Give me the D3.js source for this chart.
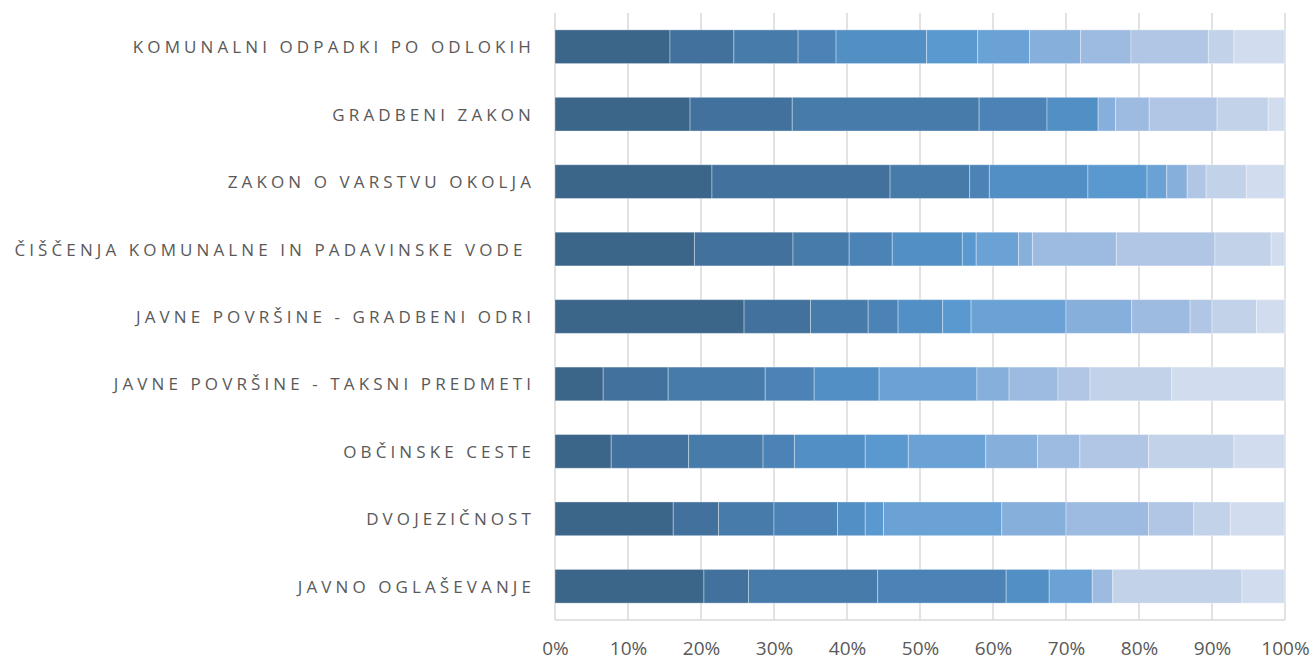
<!DOCTYPE html>
<html>
<head>
<meta charset="utf-8">
<script src="https://cdn.jsdelivr.net/npm/d3@7"></script>
<style>
  html, body { margin: 0; padding: 0; background: #ffffff; }
  svg { display: block; }
</style>
</head>
<body>
<svg id="chart" width="1314" height="661"></svg>
<script>
// Categories, top to bottom
const categories = [
  "KOMUNALNI ODPADKI PO ODLOKIH",
  "GRADBENI ZAKON",
  "ZAKON O VARSTVU OKOLJA",
  "ČIŠČENJA KOMUNALNE IN PADAVINSKE VODE ",
  "JAVNE POVRŠINE - GRADBENI ODRI",
  "JAVNE POVRŠINE - TAKSNI PREDMETI",
  "OBČINSKE CESTE",
  "DVOJEZIČNOST",
  "JAVNO OGLAŠEVANJE"
];

// Series values (percent share), one array per series, in category order
const s01 = [15.75, 18.5, 21.5, 19.1, 25.9,  6.6,  7.7, 16.2, 20.4];
const s02 = [ 8.75, 14.0, 24.4, 13.5,  9.1,  8.9, 10.6,  6.2,  6.1];
const s03 = [ 8.8,  25.6, 10.9,  7.7,  7.9, 13.3, 10.2,  7.6, 17.7];
const s04 = [ 5.2,   9.3,  2.7,  5.9,  4.1,  6.7,  4.3,  8.7, 17.6];
const s05 = [12.4,   7.0, 13.5,  9.6,  6.1,  8.9,  9.7,  3.8,  5.9];
const s06 = [ 7.0,   0.0,  8.1,  1.9,  3.9,  0.0,  5.9,  2.5,  0.0];
const s07 = [ 7.1,   0.0,  2.7,  5.8, 13.0, 13.4, 10.6, 16.2,  5.9];
const s08 = [ 7.0,   2.4,  2.8,  1.9,  9.0,  4.4,  7.1,  8.8,  0.0];
const s09 = [ 6.9,   4.6,  0.0, 11.5,  8.0,  6.7,  5.8, 11.3,  2.8];
const s10 = [10.6,   9.3,  2.6, 13.5,  3.0,  4.4,  9.4,  6.2,  0.0];
const s11 = [ 3.5,   7.0,  5.5,  7.7,  6.1, 11.2, 11.7,  5.0, 17.7];
const s12 = [ 7.0,   2.3,  5.3,  1.9,  3.9, 15.5,  7.0,  7.5,  5.9];

const seriesList = [s01, s02, s03, s04, s05, s06, s07, s08, s09, s10, s11, s12];
const seriesKeys = seriesList.map((_, i) => "s" + (i + 1));

const tickValues = [0, 0.1, 0.2, 0.3, 0.4, 0.5, 0.6, 0.7, 0.8, 0.9, 1.0];

const colors = [
  "#3b6589", "#41719c", "#477caa", "#4c83b6", "#528fc4", "#5a99d0",
  "#6ba2d6", "#87afdb", "#9dbbe1", "#b0c6e4", "#c1d2e9", "#d1ddee"
];

// Build table for d3.stack
const table = categories.map((c, ci) => {
  const row = { category: c };
  seriesKeys.forEach((k, si) => { row[k] = seriesList[si][ci]; });
  return row;
});

const stacked = d3.stack()
  .keys(seriesKeys)
  .offset(d3.stackOffsetExpand)(table);

const svg = d3.select("#chart");
const plotLeft = 555, plotRight = 1285, plotTop = 13, plotBottom = 620;

const x = d3.scaleLinear().domain([0, 1]).range([plotLeft, plotRight]);
const y = d3.scaleBand().domain(categories).range([plotTop, plotBottom])
  .paddingInner(0.5).paddingOuter(0.25);

// Gridlines
svg.append("g")
  .selectAll("line")
  .data(tickValues)
  .join("line")
  .attr("x1", d => x(d)).attr("x2", d => x(d))
  .attr("y1", plotTop).attr("y2", plotBottom)
  .attr("stroke", "#d9d9d9")
  .attr("stroke-width", 1.5);

// Bottom axis line
svg.append("line")
  .attr("x1", plotLeft).attr("x2", plotRight)
  .attr("y1", plotBottom).attr("y2", plotBottom)
  .attr("stroke", "#d9d9d9").attr("stroke-width", 1.5);

// Bars
const cScale = d3.scaleOrdinal().domain(seriesKeys).range(colors);
svg.append("g")
  .selectAll("g")
  .data(stacked)
  .join("g")
  .attr("fill", d => cScale(d.key))
  .selectAll("rect")
  .data(d => d.filter(p => p[1] - p[0] > 0))
  .join("rect")
  .attr("x", d => x(d[0]))
  .attr("width", d => x(d[1]) - x(d[0]))
  .attr("y", d => y(d.data.category))
  .attr("height", y.bandwidth())
  .attr("stroke", "rgba(255,255,255,0.35)")
  .attr("stroke-width", 1);

// X axis labels
const xAxis = d3.axisBottom(x)
  .tickValues(tickValues)
  .tickFormat(d3.format(".0%"))
  .tickSize(0)
  .tickPadding(22);
const gx = svg.append("g")
  .attr("transform", `translate(0,${plotBottom})`)
  .call(xAxis);
gx.select(".domain").remove();
gx.selectAll("text")
  .attr("fill", "#595959")
  .style("font-family", "'Open Sans', 'Liberation Sans', sans-serif")
  .style("font-size", "19px");

// Y axis labels
const yAxis = d3.axisLeft(y).tickSize(0).tickPadding(0);
const gy = svg.append("g")
  .attr("transform", `translate(535,0)`)
  .call(yAxis);
gy.select(".domain").remove();
gy.selectAll("text")
  .attr("fill", "#595959")
  .attr("dy", "0.38em")
  .style("white-space", "pre")
  .style("font-family", "'Open Sans', 'Liberation Sans', sans-serif")
  .style("font-size", "17px")
  .style("letter-spacing", "4.1px");
</script>
</body>
</html>
